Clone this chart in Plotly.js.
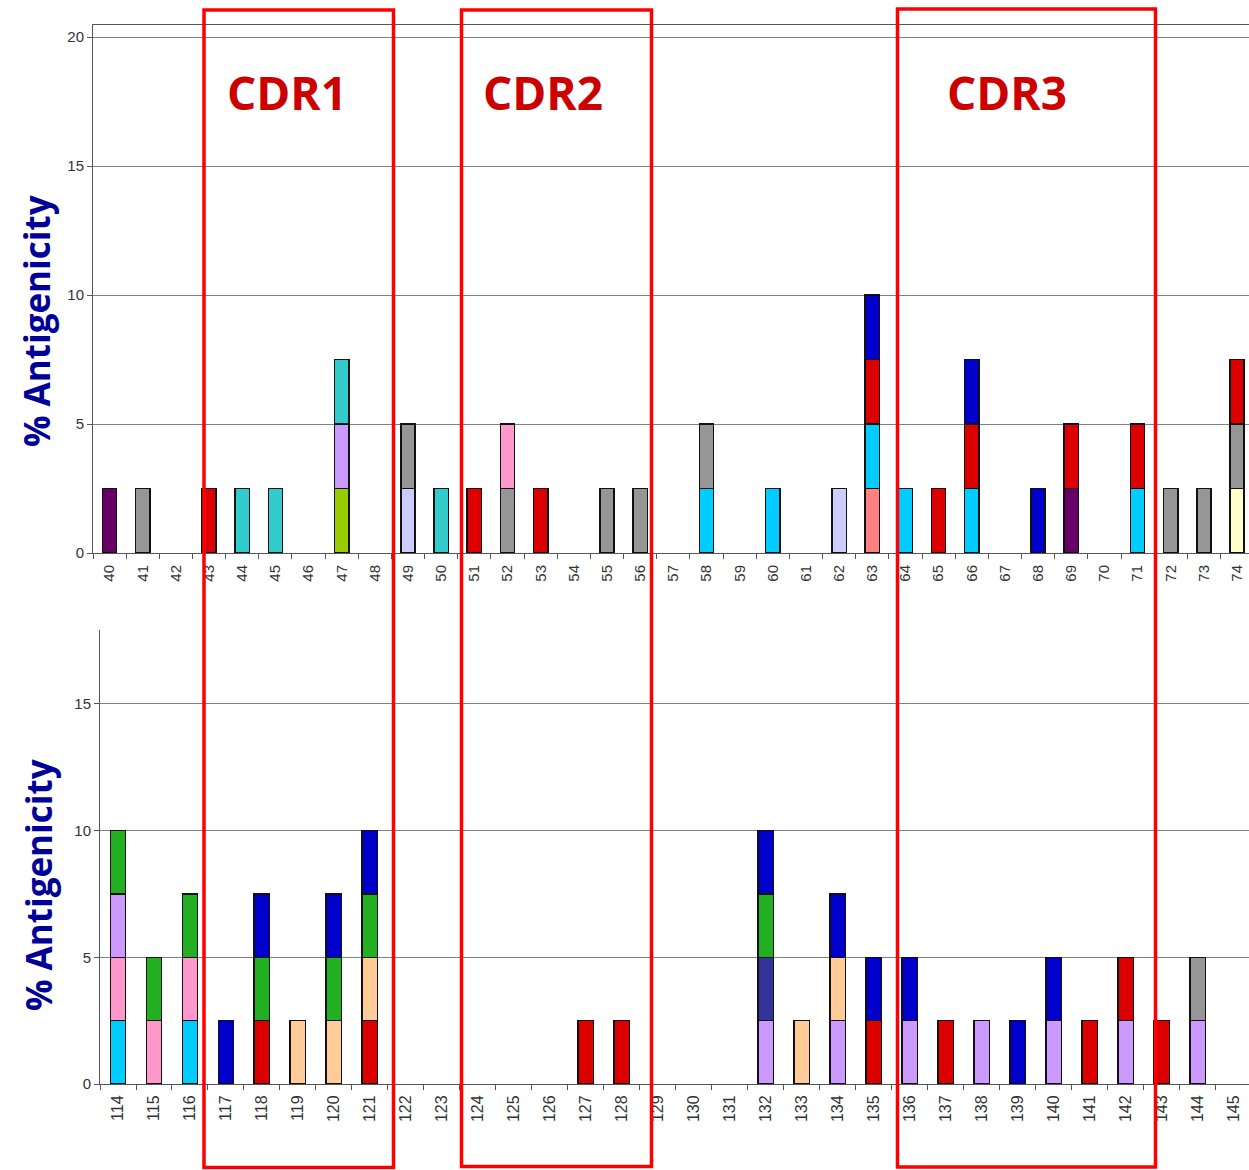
<!DOCTYPE html>
<html>
<head>
<meta charset="utf-8">
<script src="https://cdn.plot.ly/plotly-3.0.1.min.js"></script>
<style>html,body{margin:0;padding:0;background:#fff;}#chart{width:1249px;height:1170px;}</style>
</head>
<body>
<div id="chart"></div>
<script>
// ---------- Top panel: residues 40-74 ----------
const topPositions = ['40','41','42','43','44','45','46','47','48','49','50','51','52','53','54','55','56','57','58','59','60','61','62','63','64','65','66','67','68','69','70','71','72','73','74'];
const topSalmon      = [0,0,0,0,0, 0,0,0,0,0, 0,0,0,0,0, 0,0,0,0,0, 0,0,0,2.5,0, 0,0,0,0,0, 0,0,0,0,0];
const topYellowGreen = [0,0,0,0,0, 0,0,2.5,0,0, 0,0,0,0,0, 0,0,0,0,0, 0,0,0,0,0, 0,0,0,0,0, 0,0,0,0,0];
const topPurple      = [2.5,0,0,0,0, 0,0,0,0,0, 0,0,0,0,0, 0,0,0,0,0, 0,0,0,0,0, 0,0,0,0,2.5, 0,0,0,0,0];
const topPeriwinkle  = [0,0,0,0,0, 0,0,0,0,2.5, 0,0,0,0,0, 0,0,0,0,0, 0,0,2.5,0,0, 0,0,0,0,0, 0,0,0,0,0];
const topLightYellow = [0,0,0,0,0, 0,0,0,0,0, 0,0,0,0,0, 0,0,0,0,0, 0,0,0,0,0, 0,0,0,0,0, 0,0,0,0,2.5];
const topSkyBlue     = [0,0,0,0,0, 0,0,0,0,0, 0,0,0,0,0, 0,0,0,2.5,0, 2.5,0,0,2.5,2.5, 0,2.5,0,0,0, 0,2.5,0,0,0];
const topGray        = [0,2.5,0,0,0, 0,0,0,0,2.5, 0,0,2.5,0,0, 2.5,2.5,0,2.5,0, 0,0,0,0,0, 0,0,0,0,0, 0,0,2.5,2.5,2.5];
const topLavender    = [0,0,0,0,0, 0,0,2.5,0,0, 0,0,0,0,0, 0,0,0,0,0, 0,0,0,0,0, 0,0,0,0,0, 0,0,0,0,0];
const topPink        = [0,0,0,0,0, 0,0,0,0,0, 0,0,2.5,0,0, 0,0,0,0,0, 0,0,0,0,0, 0,0,0,0,0, 0,0,0,0,0];
const topRed         = [0,0,0,2.5,0, 0,0,0,0,0, 0,2.5,0,2.5,0, 0,0,0,0,0, 0,0,0,2.5,0, 2.5,2.5,0,0,2.5, 0,2.5,0,0,2.5];
const topTeal        = [0,0,0,0,2.5, 2.5,0,2.5,0,0, 2.5,0,0,0,0, 0,0,0,0,0, 0,0,0,0,0, 0,0,0,0,0, 0,0,0,0,0];
const topBlue        = [0,0,0,0,0, 0,0,0,0,0, 0,0,0,0,0, 0,0,0,0,0, 0,0,0,2.5,0, 0,2.5,0,2.5,0, 0,0,0,0,0];

// ---------- Bottom panel: residues 114-145 ----------
const botPositions = ['114','115','116','117','118','119','120','121','122','123','124','125','126','127','128','129','130','131','132','133','134','135','136','137','138','139','140','141','142','143','144','145'];
const botSkyBlue  = [2.5,0,2.5,0,0, 0,0,0,0,0, 0,0,0,0,0, 0,0,0,0,0, 0,0,0,0,0, 0,0,0,0,0, 0,0];
const botPink     = [2.5,2.5,2.5,0,0, 0,0,0,0,0, 0,0,0,0,0, 0,0,0,0,0, 0,0,0,0,0, 0,0,0,0,0, 0,0];
const botLavender = [2.5,0,0,0,0, 0,0,0,0,0, 0,0,0,0,0, 0,0,0,2.5,0, 2.5,0,2.5,0,2.5, 0,2.5,0,2.5,0, 2.5,0];
const botRed      = [0,0,0,0,2.5, 0,0,2.5,0,0, 0,0,0,2.5,2.5, 0,0,0,0,0, 0,2.5,0,2.5,0, 0,0,2.5,2.5,2.5, 0,0];
const botPeach    = [0,0,0,0,0, 2.5,2.5,2.5,0,0, 0,0,0,0,0, 0,0,0,0,2.5, 2.5,0,0,0,0, 0,0,0,0,0, 0,0];
const botNavy     = [0,0,0,0,0, 0,0,0,0,0, 0,0,0,0,0, 0,0,0,2.5,0, 0,0,0,0,0, 0,0,0,0,0, 0,0];
const botGreen    = [2.5,2.5,2.5,0,2.5, 0,2.5,2.5,0,0, 0,0,0,0,0, 0,0,0,2.5,0, 0,0,0,0,0, 0,0,0,0,0, 0,0];
const botBlue     = [0,0,0,2.5,2.5, 0,2.5,2.5,0,0, 0,0,0,0,0, 0,0,0,2.5,0, 2.5,2.5,2.5,0,0, 2.5,2.5,0,0,0, 0,0];
const botGray     = [0,0,0,0,0, 0,0,0,0,0, 0,0,0,0,0, 0,0,0,0,0, 0,0,0,0,0, 0,0,0,0,0, 2.5,0];

const topTicks = [0,5,10,15,20];
const botTicks = [0,5,10,15];
const regionLabels = ['CDR1','CDR2','CDR3'];
const yTitle = '% Antigenicity';

const palette = {
  salmon:'#FF8080', yellowgreen:'#99CC00', purple:'#660066', periwinkle:'#CCCCFF',
  lightyellow:'#FFFFCC', skyblue:'#00CCFF', gray:'#969696', lavender:'#CC99FF',
  pink:'#FF99CC', red:'#DD0000', teal:'#33CCCC', blue:'#0000CC',
  peach:'#FFCC99', navy:'#333399', green:'#22B022'
};

const topSeries = [
  ['salmon',topSalmon],['yellowgreen',topYellowGreen],['purple',topPurple],['periwinkle',topPeriwinkle],
  ['lightyellow',topLightYellow],['skyblue',topSkyBlue],['gray',topGray],['lavender',topLavender],
  ['pink',topPink],['red',topRed],['teal',topTeal],['blue',topBlue]
];
const botSeries = [
  ['skyblue',botSkyBlue],['pink',botPink],['lavender',botLavender],['red',botRed],['peach',botPeach],
  ['navy',botNavy],['green',botGreen],['blue',botBlue],['gray',botGray]
];

const traces = [];
topSeries.forEach(([c, v]) => traces.push({
  type:'bar', x:topPositions, y:v.map(d => d || null), xaxis:'x', yaxis:'y',
  marker:{color:palette[c], line:{color:'#111', width:1.5}}, showlegend:false, hoverinfo:'x+y'
}));
botSeries.forEach(([c, v]) => traces.push({
  type:'bar', x:botPositions, y:v.map(d => d || null), xaxis:'x2', yaxis:'y2',
  marker:{color:palette[c], line:{color:'#111', width:1.5}}, showlegend:false, hoverinfo:'x+y'
}));

const W = 1249, H = 1170;
const px = v => v / W;
const py = v => 1 - v / H;

const tickFont = {family:'Liberation Sans, Arial, sans-serif', size:15, color:'#333'};
const axisCommon = {showline:true, linecolor:'#555', linewidth:1, zeroline:false};

const layout = {
  width:W, height:H, margin:{l:0,r:0,t:0,b:0},
  paper_bgcolor:'#fff', plot_bgcolor:'#fff',
  barmode:'stack', bargap:0.57,
  showlegend:false,
  xaxis:Object.assign({}, axisCommon, {
    domain:[px(93), 1], anchor:'y', type:'category', range:[-0.5, 34.36],
    tickson:'boundaries', ticks:'outside', ticklen:5, tickcolor:'#555',
    tickangle:-90, tickfont:tickFont, ticklabelstandoff:5, showgrid:false, mirror:true
  }),
  yaxis:Object.assign({}, axisCommon, {
    domain:[py(553), py(25)], anchor:'x', range:[0, 20.47],
    tickvals:topTicks, ticks:'outside', ticklen:5, tickcolor:'#555',
    tickfont:tickFont, showgrid:true, gridcolor:'#808080', gridwidth:1
  }),
  xaxis2:Object.assign({}, axisCommon, {
    domain:[px(100), 1], anchor:'y2', type:'category', range:[-0.5, 31.42],
    tickson:'boundaries', ticks:'outside', ticklen:5, tickcolor:'#555',
    tickangle:-90, tickfont:Object.assign({}, tickFont, {size:16}), ticklabelstandoff:4, showgrid:false
  }),
  yaxis2:Object.assign({}, axisCommon, {
    domain:[py(1084), py(630)], anchor:'x2', range:[0, 17.92],
    tickvals:botTicks, ticks:'outside', ticklen:5, tickcolor:'#555',
    tickfont:tickFont, showgrid:true, gridcolor:'#808080', gridwidth:1
  }),
  shapes:[
    {type:'rect', xref:'paper', yref:'paper', x0:px(204), x1:px(393.5), y0:py(1167.5), y1:py(10), line:{color:'#FF0000', width:3.5}, layer:'above'},
    {type:'rect', xref:'paper', yref:'paper', x0:px(461.5), x1:px(651.5), y0:py(1166.5), y1:py(10), line:{color:'#FF0000', width:3.5}, layer:'above'},
    {type:'rect', xref:'paper', yref:'paper', x0:px(897.5), x1:px(1155.5), y0:py(1167), y1:py(9), line:{color:'#FF0000', width:3.5}, layer:'above'}
  ],
  annotations:[
    {xref:'paper', yref:'paper', x:px(287), y:py(92), text:regionLabels[0], showarrow:false,
     font:{family:'Open Sans, sans-serif', size:46, color:'#CC0000', weight:'bold'}, xanchor:'center', yanchor:'middle'},
    {xref:'paper', yref:'paper', x:px(543), y:py(92), text:regionLabels[1], showarrow:false,
     font:{family:'Open Sans, sans-serif', size:46, color:'#CC0000', weight:'bold'}, xanchor:'center', yanchor:'middle'},
    {xref:'paper', yref:'paper', x:px(1007), y:py(92), text:regionLabels[2], showarrow:false,
     font:{family:'Open Sans, sans-serif', size:46, color:'#CC0000', weight:'bold'}, xanchor:'center', yanchor:'middle'},
    {xref:'paper', yref:'paper', x:px(36), y:py(321), text:yTitle, textangle:-90, showarrow:false,
     font:{family:'Open Sans, sans-serif', size:35, color:'#000099', weight:'bold'}, xanchor:'center', yanchor:'middle'},
    {xref:'paper', yref:'paper', x:px(38), y:py(885), text:yTitle, textangle:-90, showarrow:false,
     font:{family:'Open Sans, sans-serif', size:35, color:'#000099', weight:'bold'}, xanchor:'center', yanchor:'middle'}
  ]
};

Plotly.newPlot('chart', traces, layout, {displayModeBar:false, staticPlot:true});
</script>
</body>
</html>
